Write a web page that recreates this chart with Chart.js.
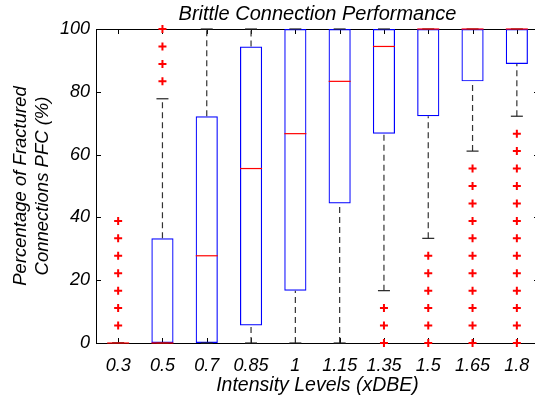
<!DOCTYPE html>
<html>
<head>
<meta charset="utf-8">
<script src="https://cdn.jsdelivr.net/npm/chart.js@4.4.0/dist/chart.umd.min.js"></script>
<style>
  html, body { margin: 0; padding: 0; background: #fff; overflow: hidden; }
  #wrap { width: 540px; height: 402px; }
</style>
</head>
<body>
<div id="wrap"><canvas id="boxes" width="540" height="402"></canvas></div>
<script>
// intensity levels (xDBE)
const levels = ['0.3', '0.5', '0.7', '0.85', '1', '1.15', '1.35', '1.5', '1.65', '1.8'];

// box statistics, PFC in %
const q1      = [0, 0, 0, 5.56, 16.67, 44.44, 66.67, 72.22, 83.33, 88.89];
const median  = [0, 0, 27.78, 55.56, 66.67, 83.33, 94.44, 100, 100, 100];
const q3      = [0, 33.33, 72.22, 94.44, 100, 100, 100, 100, 100, 100];
const whiskLo = [0, 0, 0, 0, 0, 0, 16.67, 33.33, 61.11, 72.22];
const whiskHi = [0, 77.78, 100, 100, 100, 100, 100, 100, 100, 100];

// outliers per level
const outliers = [
    [5.56, 11.11, 16.67, 22.22, 27.78, 33.33, 38.89],
    [83.33, 88.89, 94.44, 100],
    [],
    [],
    [],
    [],
    [0, 5.56, 11.11],
    [0, 5.56, 11.11, 16.67, 22.22, 27.78],
    [0, 5.56, 11.11, 16.67, 22.22, 27.78, 33.33, 38.89, 44.44, 50, 55.56],
    [0, 5.56, 11.11, 16.67, 22.22, 27.78, 33.33, 38.89, 44.44, 50, 55.56, 61.11, 66.67]
];

const yTicks = [0, 20, 40, 60, 80, 100];

(function(){

    Chart.defaults.font.family = "'Liberation Sans', Arial, sans-serif";
    Chart.defaults.font.style = 'italic';
    Chart.defaults.color = '#000';

    let boxData = levels.map(function(l, i){ return {x: i + 1, y: [q1[i], q3[i]]}; });
    let medData = levels.map(function(l, i){ return {x: i + 1, y: median[i]}; });

    let whiskData = [];
    let capData = [];
    levels.map(function(l, i){
        whiskData.push({x: i + 1, y: q3[i]}, {x: i + 1, y: whiskHi[i]}, {x: i + 1, y: null});
        whiskData.push({x: i + 1, y: whiskLo[i]}, {x: i + 1, y: q1[i]}, {x: i + 1, y: null});
        capData.push({x: i + 1, y: whiskHi[i]}, {x: i + 1, y: whiskLo[i]});
    });

    let outData = [];
    outliers.forEach(function(list, i){
        list.forEach(function(v){ outData.push({x: i + 1, y: v}); });
    });

    // matlab style frame with inward ticks
    const frame = {
        id: 'frame',
        beforeDatasetsDraw: function(chart){
            const ctx = chart.ctx;
            const a = chart.chartArea;
            const x = chart.scales.x, y = chart.scales.y;
            ctx.save();
            ctx.strokeStyle = '#000';
            ctx.lineWidth = 1;
            ctx.beginPath();
            y.ticks.forEach(function(t){
                let py = Math.round(y.getPixelForValue(t.value)) + 0.5;
                ctx.moveTo(a.left, py); ctx.lineTo(a.left + 5, py);
                ctx.moveTo(a.right, py); ctx.lineTo(a.right - 5, py);
            });
            x.ticks.forEach(function(t){
                let px = Math.round(x.getPixelForValue(t.value)) + 0.5;
                ctx.moveTo(px, a.bottom); ctx.lineTo(px, a.bottom - 5);
                ctx.moveTo(px, a.top); ctx.lineTo(px, a.top + 5);
            });
            ctx.stroke();
            ctx.strokeRect(Math.round(a.left) + 0.5, Math.round(a.top) + 0.5,
                Math.round(a.right - a.left), Math.round(a.bottom - a.top));
            ctx.restore();
        }
    };

    const config = {
        type: 'bar',
        data: {
            datasets: [
                {
                    type: 'scatter',
                    label: 'outliers',
                    data: outData,
                    pointStyle: 'cross',
                    pointRadius: 4,
                    pointHoverRadius: 4,
                    borderColor: '#ff0000',
                    borderWidth: 2,
                    clip: false,
                    order: 1
                },
                {
                    type: 'scatter',
                    label: 'median',
                    data: medData,
                    pointStyle: 'line',
                    pointRadius: 11,
                    pointHoverRadius: 11,
                    borderColor: '#ff0000',
                    borderWidth: 1.2,
                    clip: false,
                    order: 2
                },
                {
                    type: 'scatter',
                    label: 'caps',
                    data: capData,
                    pointStyle: 'line',
                    pointRadius: 6,
                    pointHoverRadius: 6,
                    borderColor: '#222',
                    borderWidth: 1.2,
                    clip: false,
                    order: 3
                },
                {
                    type: 'line',
                    label: 'whiskers',
                    data: whiskData,
                    borderColor: '#333',
                    borderWidth: 1.2,
                    borderDash: [6, 4],
                    pointRadius: 0,
                    spanGaps: false,
                    fill: false,
                    order: 4
                },
                {
                    type: 'bar',
                    label: 'box',
                    data: boxData,
                    backgroundColor: 'rgba(0,0,0,0)',
                    borderColor: '#0000ff',
                    borderWidth: 1.2,
                    borderSkipped: false,
                    barPercentage: 0.5,
                    categoryPercentage: 1,
                    order: 5
                }
            ]
        },
        options: {
            responsive: false,
            animation: false,
            layout: {
                autoPadding: false,
                padding: { left: 0, right: 1, top: 0, bottom: 0 }
            },
            plugins: {
                legend: { display: false },
                tooltip: { enabled: false },
                title: {
                    display: true,
                    text: 'Brittle Connection Performance',
                    fullSize: false,
                    font: { size: 20, style: 'italic', weight: 'normal' },
                    padding: { top: 2, bottom: 3 }
                }
            },
            scales: {
                x: {
                    type: 'linear',
                    min: 0.5,
                    max: 10.5,
                    offset: false,
                    grid: { display: false, drawTicks: false },
                    border: { display: false },
                    afterBuildTicks: function(scale){
                        scale.ticks = levels.map(function(l, i){ return {value: i + 1}; });
                    },
                    afterFit: function(scale){
                        scale.height = 59;
                        scale.paddingLeft = 0;
                        scale.paddingRight = 0;
                    },
                    ticks: {
                        autoSkip: false,
                        maxRotation: 0,
                        padding: 12,
                        font: { size: 18 },
                        callback: function(v){ return levels[Math.round(v) - 1]; }
                    },
                    title: {
                        display: true,
                        text: 'Intensity Levels (xDBE)',
                        font: { size: 19.5 },
                        padding: { top: 0, bottom: 5 }
                    }
                },
                y: {
                    min: 0,
                    max: 100,
                    grid: { display: false, drawTicks: false },
                    border: { display: false },
                    afterBuildTicks: function(scale){
                        scale.ticks = yTicks.map(function(v){ return {value: v}; });
                    },
                    afterFit: function(scale){ scale.width = 96; },
                    ticks: {
                        padding: 6,
                        font: { size: 18 }
                    },
                    title: {
                        display: true,
                        text: ['Percentage of Fractured', 'Connections PFC (%)'],
                        font: { size: 18.5 },
                        padding: { top: 10, bottom: 0 }
                    }
                }
            }
        },
        plugins: [frame]
    };

    let myChart = new Chart(document.getElementById('boxes').getContext('2d'), config);

})();
</script>
</body>
</html>
